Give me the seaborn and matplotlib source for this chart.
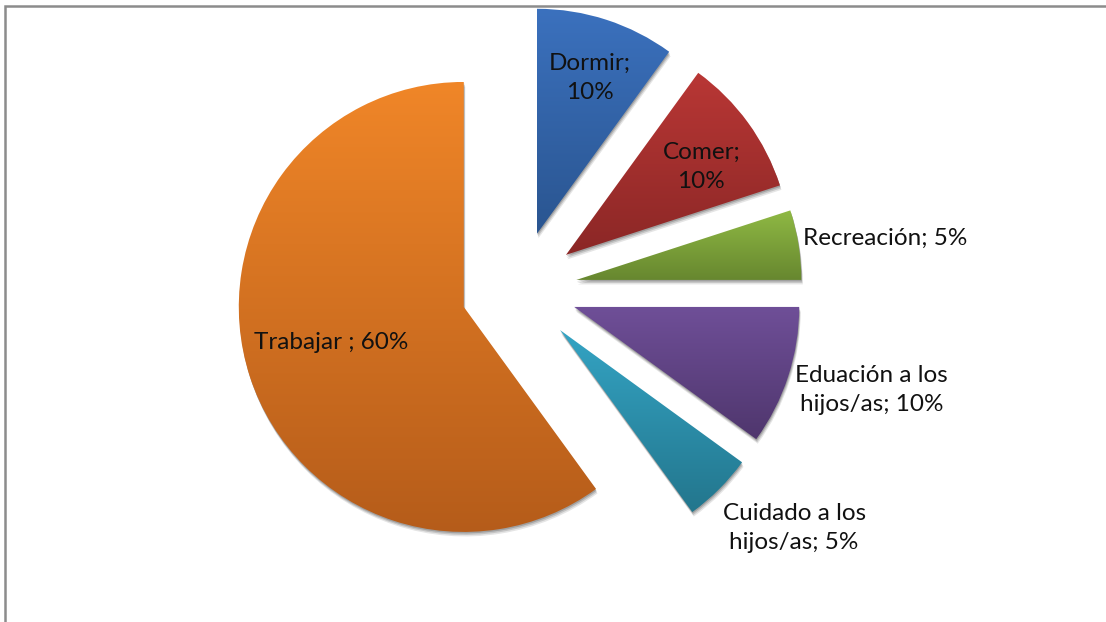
import numpy as np
import matplotlib
matplotlib.use("Agg")
import matplotlib.pyplot as plt
import matplotlib.transforms as mtransforms
from matplotlib.patches import PathPatch, Rectangle
import seaborn as sns

# Distribución del tiempo
categorias = ["Dormir", "Comer", "Recreación", "Eduación a los\nhijos/as",
              "Cuidado a los\nhijos/as", "Trabajar "]
porcentajes = [10, 10, 5, 10, 5, 60]

# gradient colours per slice (top, bottom)
colores_sup = ["#3B71BE", "#B93735", "#8FB944", "#6F4F98", "#34A4C4", "#F08628"]
colores_inf = ["#2A5590", "#8B2726", "#67872F", "#4F366D", "#23768D", "#B55C1A"]

# label separators and distance from the pie centre (in radii)
separadores = [";\n", ";\n", "; ", "; ", "; ", "; "]
dist_etiquetas = [0.99, 0.975, 1.645, 1.63, 1.62, 0.87]
ajuste_angulo = [-0.5, -2.2, -1.1, 2.0, 4.0, -2.0]

sns.set_theme(style="white")
plt.rcParams["font.family"] = ["Lato", "DejaVu Sans"]

W, H = 1106, 622
fig = plt.figure(figsize=(W / 100, H / 100), dpi=100)
fig.patch.set_facecolor("white")

# outer chart frame (top and left edges visible)
fig.add_artist(Rectangle((5 / W, -0.05), 1.2, 1 - 6 / H + 0.05,
                         transform=fig.transFigure, fill=False,
                         edgecolor="#8c8c8c", linewidth=1.8))

ax = fig.add_axes([0, 0, 1, 1])
px = 225.0  # pixels per radius
cx, cy = 519.0, 289.0

wedges, _ = ax.pie(porcentajes, startangle=90, counterclock=False,
                   explode=[0.258] * len(porcentajes), radius=1.0,
                   colors=sns.color_palette(colores_sup))

ax.set_xlim(-cx / px, (W - cx) / px)
ax.set_ylim(-(H - cy) / px, cy / px)
ax.set_aspect("equal")
ax.axis("off")

for i, w in enumerate(wedges):
    path = w.get_path()
    verts = path.vertices
    x0, x1 = verts[:, 0].min(), verts[:, 0].max()
    y0, y1 = verts[:, 1].min(), verts[:, 1].max()

    # soft drop shadow
    for dx, dy, a in [(1.5, -4.5, 0.10), (1.0, -3.0, 0.14), (0.5, -1.5, 0.18)]:
        sh = PathPatch(path, facecolor="black", edgecolor="none", alpha=a,
                       transform=ax.transData + mtransforms.ScaledTranslation(
                           dx / 100, dy / 100, fig.dpi_scale_trans),
                       zorder=0.5)
        ax.add_patch(sh)

    w.set_facecolor("none")
    w.set_edgecolor("none")

    top = np.array(matplotlib.colors.to_rgb(colores_sup[i]))
    bot = np.array(matplotlib.colors.to_rgb(colores_inf[i]))
    t = np.linspace(0, 1, 256)[:, None]
    grad = (bot * (1 - t) + top * t)[:, None, :]
    im = ax.imshow(grad, extent=[x0, x1, y0, y1], origin="lower",
                   aspect="auto", interpolation="bilinear", zorder=1)
    im.set_clip_path(PathPatch(path, transform=ax.transData))

    ang = np.deg2rad((w.theta1 + w.theta2) / 2 + ajuste_angulo[i])
    r = dist_etiquetas[i]
    texto = f"{categorias[i]}{separadores[i]}{porcentajes[i]}%"
    ax.text(r * np.cos(ang), r * np.sin(ang), texto, ha="center", va="center",
            fontsize=17.5, color="#111111", linespacing=1.5, zorder=3)

ax.set_xlim(-cx / px, (W - cx) / px)
ax.set_ylim(-(H - cy) / px, cy / px)

fig.savefig("out.png", dpi=100, facecolor="white")
